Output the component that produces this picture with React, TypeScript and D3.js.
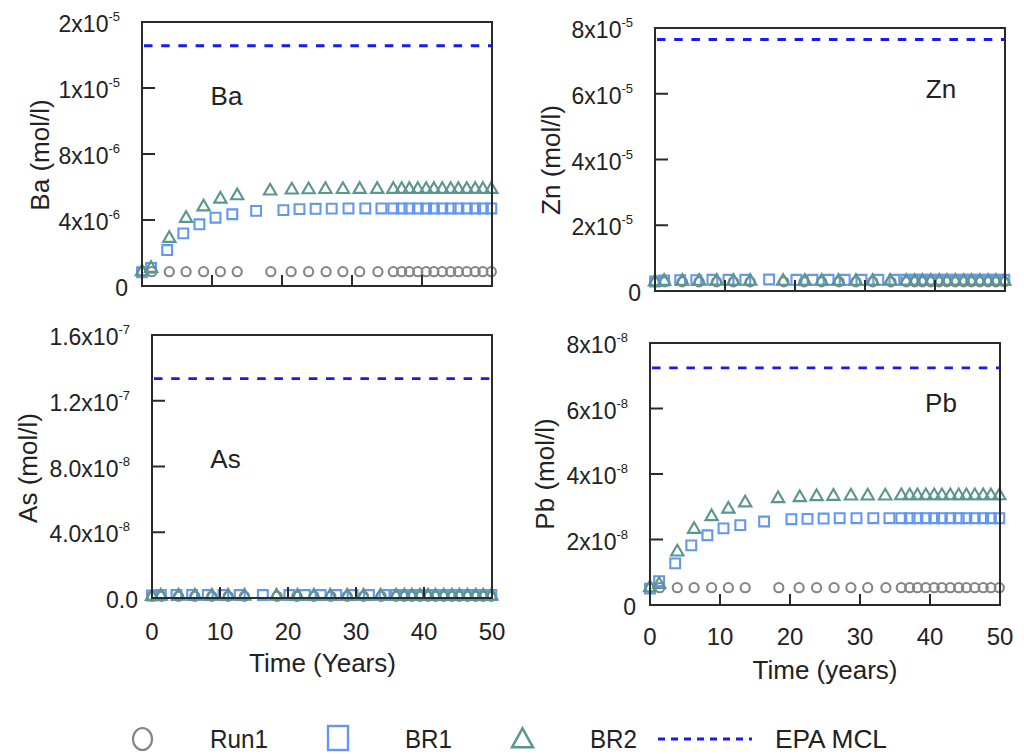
import React from 'react';
import * as d3 from 'd3';

// ---------------- DATA ----------------
const timeRun1 = [0, 1.4, 3.9, 6.3, 8.8, 11.2, 13.6, 18.4, 21.3, 23.8, 26.3, 28.7, 31.1, 33.7, 35.9, 37.1, 38.2, 39.4, 40.6, 41.7, 42.9, 44.1, 45.2, 46.4, 47.6, 48.7, 49.9];
const timeBR1 = [0, 1.3, 3.6, 5.9, 8.2, 10.5, 12.9, 16.3, 20.2, 22.5, 24.8, 27.1, 29.5, 31.9, 34.2, 35.9, 37.1, 38.2, 39.4, 40.6, 41.7, 42.9, 44.1, 45.2, 46.4, 47.6, 48.7, 49.9];
const timeBR2 = [0, 1.3, 3.9, 6.3, 8.8, 11.2, 13.6, 18.3, 21.4, 23.8, 26.2, 28.7, 31.1, 33.6, 35.9, 37.1, 38.2, 39.4, 40.6, 41.7, 42.9, 44.1, 45.2, 46.4, 47.6, 48.7, 49.9];
const xTicks = [0, 10, 20, 30, 40, 50];

// Ba (mol/l)
const baRun1 = [8.7e-7, 8.7e-7, 8.7e-7, 8.7e-7, 8.7e-7, 8.7e-7, 8.7e-7, 8.7e-7, 8.7e-7, 8.7e-7, 8.7e-7, 8.7e-7, 8.7e-7, 8.7e-7, 8.7e-7, 8.7e-7, 8.7e-7, 8.7e-7, 8.7e-7, 8.7e-7, 8.7e-7, 8.7e-7, 8.7e-7, 8.7e-7, 8.7e-7, 8.7e-7, 8.7e-7];
const baBR1 = [8.3e-7, 1.1e-6, 2.18e-6, 3.19e-6, 3.74e-6, 4.14e-6, 4.35e-6, 4.55e-6, 4.6e-6, 4.66e-6, 4.68e-6, 4.69e-6, 4.7e-6, 4.7e-6, 4.7e-6, 4.7e-6, 4.7e-6, 4.7e-6, 4.7e-6, 4.7e-6, 4.7e-6, 4.7e-6, 4.7e-6, 4.7e-6, 4.7e-6, 4.7e-6, 4.7e-6, 4.7e-6];
const baBR2 = [8.7e-7, 1.07e-6, 2.89e-6, 4.1e-6, 4.8e-6, 5.27e-6, 5.47e-6, 5.76e-6, 5.82e-6, 5.84e-6, 5.85e-6, 5.85e-6, 5.86e-6, 5.86e-6, 5.86e-6, 5.86e-6, 5.86e-6, 5.86e-6, 5.86e-6, 5.86e-6, 5.86e-6, 5.86e-6, 5.86e-6, 5.86e-6, 5.86e-6, 5.86e-6, 5.86e-6];
const baMCL = 1.456e-5;
const baTicks = [0, 4e-6, 8e-6, 1.2e-5, 1.6e-5];
const baTickBase = ['0', '4x10', '8x10', '1x10', '2x10'];
const baTickExp = ['', '-6', '-6', '-5', '-5'];

// Zn (mol/l)
const znRun1 = [2.8e-6, 2.8e-6, 2.8e-6, 2.8e-6, 2.8e-6, 2.8e-6, 2.8e-6, 2.8e-6, 2.8e-6, 2.8e-6, 2.8e-6, 2.8e-6, 2.8e-6, 2.8e-6, 2.8e-6, 2.8e-6, 2.8e-6, 2.8e-6, 2.8e-6, 2.8e-6, 2.8e-6, 2.8e-6, 2.8e-6, 2.8e-6, 2.8e-6, 2.8e-6, 2.8e-6];
const znBR1 = [2.9e-6, 3.2e-6, 3.3e-6, 3.3e-6, 3.4e-6, 3.4e-6, 3.4e-6, 3.5e-6, 3.4e-6, 3.4e-6, 3.4e-6, 3.4e-6, 3.4e-6, 3.4e-6, 3.4e-6, 3.4e-6, 3.4e-6, 3.4e-6, 3.4e-6, 3.4e-6, 3.4e-6, 3.4e-6, 3.4e-6, 3.4e-6, 3.4e-6, 3.4e-6, 3.4e-6, 3.4e-6];
const znBR2 = [2.8e-6, 3.0e-6, 3.0e-6, 3.0e-6, 3.0e-6, 3.0e-6, 3.0e-6, 3.0e-6, 3.0e-6, 3.0e-6, 3.0e-6, 3.0e-6, 3.0e-6, 3.0e-6, 3.0e-6, 3.0e-6, 3.0e-6, 3.0e-6, 3.0e-6, 3.0e-6, 3.0e-6, 3.0e-6, 3.0e-6, 3.0e-6, 3.0e-6, 3.0e-6, 3.0e-6];
const znMCL = 7.65e-5;
const znTicks = [0, 2e-5, 4e-5, 6e-5, 8e-5];
const znTickBase = ['0', '2x10', '4x10', '6x10', '8x10'];
const znTickExp = ['', '-5', '-5', '-5', '-5'];

// As (mol/l)
const asRun1 = [1.0e-9, 1.0e-9, 1.0e-9, 1.0e-9, 1.0e-9, 1.0e-9, 1.0e-9, 1.0e-9, 1.0e-9, 1.0e-9, 1.0e-9, 1.0e-9, 1.0e-9, 1.0e-9, 1.0e-9, 1.0e-9, 1.0e-9, 1.0e-9, 1.0e-9, 1.0e-9, 1.0e-9, 1.0e-9, 1.0e-9, 1.0e-9, 1.0e-9, 1.0e-9, 1.0e-9];
const asBR1 = [1.5e-9, 1.8e-9, 1.8e-9, 1.8e-9, 1.8e-9, 1.8e-9, 1.8e-9, 1.8e-9, 1.8e-9, 1.8e-9, 1.8e-9, 1.8e-9, 1.8e-9, 1.8e-9, 1.8e-9, 1.8e-9, 1.8e-9, 1.8e-9, 1.8e-9, 1.8e-9, 1.8e-9, 1.8e-9, 1.8e-9, 1.8e-9, 1.8e-9, 1.8e-9, 1.8e-9, 1.8e-9];
const asBR2 = [1.0e-9, 1.2e-9, 1.2e-9, 1.2e-9, 1.2e-9, 1.2e-9, 1.2e-9, 1.2e-9, 1.2e-9, 1.2e-9, 1.2e-9, 1.2e-9, 1.2e-9, 1.2e-9, 1.2e-9, 1.2e-9, 1.2e-9, 1.2e-9, 1.2e-9, 1.2e-9, 1.2e-9, 1.2e-9, 1.2e-9, 1.2e-9, 1.2e-9, 1.2e-9, 1.2e-9];
const asMCL = 1.335e-7;
const asTicks = [0, 4e-8, 8e-8, 1.2e-7, 1.6e-7];
const asTickBase = ['0.0', '4.0x10', '8.0x10', '1.2x10', '1.6x10'];
const asTickExp = ['', '-8', '-8', '-7', '-7'];

// Pb (mol/l)
const pbRun1 = [5.3e-9, 5.3e-9, 5.3e-9, 5.3e-9, 5.3e-9, 5.3e-9, 5.3e-9, 5.3e-9, 5.3e-9, 5.3e-9, 5.3e-9, 5.3e-9, 5.3e-9, 5.3e-9, 5.3e-9, 5.3e-9, 5.3e-9, 5.3e-9, 5.3e-9, 5.3e-9, 5.3e-9, 5.3e-9, 5.3e-9, 5.3e-9, 5.3e-9, 5.3e-9, 5.3e-9];
const pbBR1 = [5.0e-9, 7.3e-9, 1.27e-8, 1.82e-8, 2.13e-8, 2.34e-8, 2.44e-8, 2.55e-8, 2.62e-8, 2.63e-8, 2.64e-8, 2.65e-8, 2.65e-8, 2.65e-8, 2.65e-8, 2.65e-8, 2.65e-8, 2.65e-8, 2.65e-8, 2.65e-8, 2.65e-8, 2.65e-8, 2.65e-8, 2.65e-8, 2.65e-8, 2.65e-8, 2.65e-8, 2.65e-8];
const pbBR2 = [5.3e-9, 6.3e-9, 1.62e-8, 2.31e-8, 2.7e-8, 2.93e-8, 3.12e-8, 3.25e-8, 3.28e-8, 3.31e-8, 3.32e-8, 3.33e-8, 3.33e-8, 3.33e-8, 3.34e-8, 3.34e-8, 3.34e-8, 3.34e-8, 3.34e-8, 3.34e-8, 3.34e-8, 3.34e-8, 3.34e-8, 3.34e-8, 3.34e-8, 3.34e-8, 3.34e-8];
const pbMCL = 7.24e-8;
const pbTicks = [0, 2e-8, 4e-8, 6e-8, 8e-8];
const pbTickBase = ['0', '2x10', '4x10', '6x10', '8x10'];
const pbTickExp = ['', '-8', '-8', '-8', '-8'];

const legendLabels = ['Run1', 'BR1', 'BR2', 'EPA MCL'];

// ---------------- STYLE ----------------
const FONT = '"Liberation Sans", Arial, sans-serif';
const TXT = '#222';
const C_RUN1 = '#858585';
const C_BR1 = '#6497f0';
const C_BR2 = '#5a968e';
const C_MCL = '#1a1aee';

const symCircle = d3.symbol(d3.symbolCircle, 66)() as string;
const symSquare = d3.symbol(d3.symbolSquare, 96)() as string;
const symTri = d3.symbol(d3.symbolTriangle, 66)() as string;

type PanelProps = {
  frame: [number, number, number, number];
  ticks: number[];
  tickBase: string[];
  tickExp: string[];
  run1: number[];
  br1: number[];
  br2: number[];
  mcl: number;
  name: string;
  namePos: [number, number];
  yTitle: string;
  yTitlePos: [number, number];
  xLabelY?: number;
  xTitle?: string;
  xTitlePos?: [number, number];
};

function Panel(p: PanelProps) {
  const [x0, x1, y0, y1] = p.frame;
  const x = d3.scaleLinear().domain([0, 50]).range([x0, x1]);
  const y = d3.scaleLinear().domain([0, p.ticks[p.ticks.length - 1]]).range([y1, y0]);
  const pts = (ts: number[], vs: number[]) => ts.map((t, i) => [x(t), y(vs[i])]);
  return (
    <g>
      <line x1={x0} x2={x1} y1={y(p.mcl)} y2={y(p.mcl)} stroke={C_MCL} strokeWidth={2.8} strokeDasharray="8.5,8.7" strokeDashoffset={-2} />
      {pts(timeRun1, p.run1).map(([cx, cy], i) => (
        <path key={'c' + i} d={symCircle} transform={`translate(${cx},${cy})`} fill="none" stroke={C_RUN1} strokeWidth={2.1} />
      ))}
      {pts(timeBR1, p.br1).map(([cx, cy], i) => (
        <path key={'s' + i} d={symSquare} transform={`translate(${cx},${cy})`} fill="none" stroke={C_BR1} strokeWidth={2.1} />
      ))}
      {pts(timeBR2, p.br2).map(([cx, cy], i) => (
        <path key={'t' + i} d={symTri} transform={`translate(${cx},${cy})`} fill="none" stroke={C_BR2} strokeWidth={2.1} />
      ))}
      <rect x={x0} y={y0} width={x1 - x0} height={y1 - y0} fill="none" stroke="#2a2a2a" strokeWidth={2} />
      {p.ticks.map((t, i) => (
        <g key={'yt' + i}>
          <line x1={x0} x2={x0 + 13} y1={y(t)} y2={y(t)} stroke="#2a2a2a" strokeWidth={2} />
          <text x={x0 - (p.tickExp[i] ? 22 : 14)} y={y(t) + 10} textAnchor="end" fontSize={23} fill={TXT} fontFamily={FONT}>
            <tspan>{p.tickBase[i]}</tspan>
            {p.tickExp[i] ? <tspan dy={-11} fontSize={13}>{p.tickExp[i]}</tspan> : null}
          </text>
        </g>
      ))}
      {xTicks.map((t, i) => (
        <g key={'xt' + i}>
          <line x1={x(t)} x2={x(t)} y1={y1} y2={y1 - 11} stroke="#2a2a2a" strokeWidth={2} />
          {p.xLabelY !== undefined ? (
            <text x={x(t)} y={p.xLabelY} dy="0.35em" textAnchor="middle" fontSize={24} fill={TXT} fontFamily={FONT}>{t}</text>
          ) : null}
        </g>
      ))}
      <text x={p.namePos[0]} y={p.namePos[1]} dy="0.35em" textAnchor="middle" fontSize={26} fill={TXT} fontFamily={FONT}>{p.name}</text>
      <text transform={`translate(${p.yTitlePos[0]},${p.yTitlePos[1]}) rotate(-90)`} dy="0.35em" textAnchor="middle" fontSize={26} fill={TXT} fontFamily={FONT}>{p.yTitle}</text>
      {p.xTitle && p.xTitlePos ? (
        <text x={p.xTitlePos[0]} y={p.xTitlePos[1]} dy="0.35em" textAnchor="middle" fontSize={26} fill={TXT} fontFamily={FONT}>{p.xTitle}</text>
      ) : null}
    </g>
  );
}

function Legend() {
  const ly = 739;
  const tri = d3.symbol(d3.symbolTriangle, 190)() as string;
  const by = 747.5;
  return (
    <g fontFamily={FONT} fill={TXT}>
      <ellipse cx={142.5} cy={ly} rx={9.5} ry={11} fill="none" stroke={C_RUN1} strokeWidth={2.2} />
      <text x={210} y={by} fontSize={25} textLength={58} lengthAdjust="spacingAndGlyphs">{legendLabels[0]}</text>
      <rect x={328} y={726} width={20} height={24} fill="none" stroke={C_BR1} strokeWidth={2.4} />
      <text x={405} y={by} fontSize={25} textLength={47} lengthAdjust="spacingAndGlyphs">{legendLabels[1]}</text>
      <path d={tri} transform={`translate(522.5,${ly + 2}) scale(1,1.05)`} fill="none" stroke={C_BR2} strokeWidth={2.4} />
      <text x={590} y={by} fontSize={25} textLength={47} lengthAdjust="spacingAndGlyphs">{legendLabels[2]}</text>
      <line x1={658} x2={752} y1={739} y2={739} stroke={C_MCL} strokeWidth={2.8} strokeDasharray="7,6" />
      <text x={775} y={by} fontSize={25} textLength={112} lengthAdjust="spacingAndGlyphs">{legendLabels[3]}</text>
    </g>
  );
}

export default function App() {
  return (
    <svg width={1024} height={754} style={{ position: 'absolute', left: 0, top: 0, background: '#fff' }}>
      <rect x={0} y={0} width={1024} height={754} fill="#fff" />
      <Panel frame={[142, 492, 22, 286]} ticks={baTicks} tickBase={baTickBase} tickExp={baTickExp}
        run1={baRun1} br1={baBR1} br2={baBR2} mcl={baMCL}
        name="Ba" namePos={[226.5, 96]} yTitle="Ba (mol/l)" yTitlePos={[40, 155]} />
      <Panel frame={[655, 1005, 28, 291]} ticks={znTicks} tickBase={znTickBase} tickExp={znTickExp}
        run1={znRun1} br1={znBR1} br2={znBR2} mcl={znMCL}
        name="Zn" namePos={[941, 89]} yTitle="Zn (mol/l)" yTitlePos={[551, 160]} />
      <Panel frame={[152, 492, 335, 598]} ticks={asTicks} tickBase={asTickBase} tickExp={asTickExp}
        run1={asRun1} br1={asBR1} br2={asBR2} mcl={asMCL}
        name="As" namePos={[225.5, 459]} yTitle="As (mol/l)" yTitlePos={[28, 468]}
        xLabelY={632} xTitle="Time (Years)" xTitlePos={[322.5, 663]} />
      <Panel frame={[650, 1000, 343, 605]} ticks={pbTicks} tickBase={pbTickBase} tickExp={pbTickExp}
        run1={pbRun1} br1={pbBR1} br2={pbBR2} mcl={pbMCL}
        name="Pb" namePos={[941, 403]} yTitle="Pb (mol/l)" yTitlePos={[545, 474]}
        xLabelY={637} xTitle="Time (years)" xTitlePos={[825, 669.5]} />
      <Legend />
    </svg>
  );
}
